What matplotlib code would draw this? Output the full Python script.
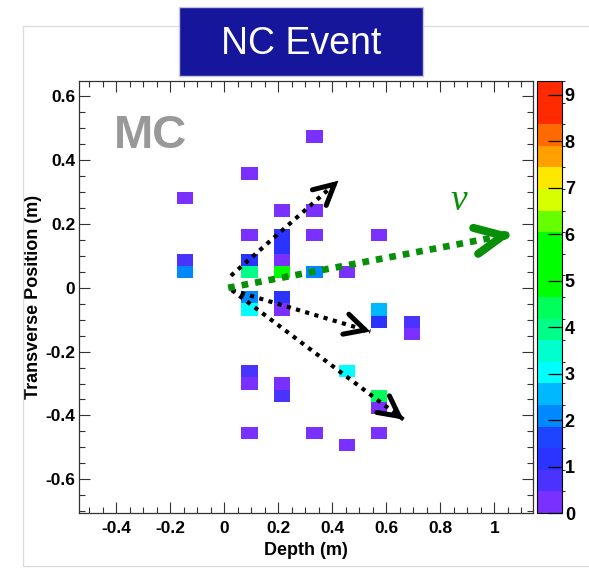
import numpy as np
import matplotlib
matplotlib.use('Agg')
import matplotlib.pyplot as plt
from matplotlib.colors import ListedColormap, BoundaryNorm
from matplotlib.patches import Rectangle
from matplotlib.ticker import AutoMinorLocator

plt.rcParams['font.family'] = ['Liberation Sans', 'DejaVu Sans']
plt.rcParams['axes.unicode_minus'] = False

# hit cells: depth (m), transverse position (m), energy
depth = [-0.146, -0.146, -0.146,
         0.094, 0.094, 0.094, 0.094, 0.094, 0.094, 0.094, 0.094, 0.094,
         0.214, 0.214, 0.214, 0.214, 0.214, 0.214, 0.214, 0.214, 0.214,
         0.334, 0.334, 0.334, 0.334, 0.334,
         0.454, 0.454, 0.454,
         0.574, 0.574, 0.574, 0.574, 0.574, 0.574,
         0.694, 0.694]
trans = [0.283, 0.088, 0.049,
         0.360, 0.166, 0.088, 0.049, -0.029, -0.068, -0.262, -0.300, -0.455,
         0.243, 0.166, 0.127, 0.088, 0.049, -0.029, -0.068, -0.300, -0.339,
         0.475, 0.243, 0.166, 0.049, -0.455,
         0.049, -0.262, -0.494,
         0.166, -0.068, -0.107, -0.339, -0.378, -0.455,
         -0.107, -0.146]
energy = [0.3, 0.7, 2.1,
          0.3, 0.3, 1.1, 3.9, 2.1, 3.0, 0.7, 0.3, 0.3,
          0.3, 1.1, 1.1, 0.3, 5.3, 1.1, 0.3, 0.3, 0.7,
          0.3, 0.3, 0.3, 2.1, 0.3,
          0.3, 3.0, 0.3,
          0.3, 2.5, 1.1, 4.4, 0.3, 0.3,
          0.7, 0.3]

# particle directions (start, end) in m
tracks = [((0.025, 0.038), (0.423, 0.336)),
          ((0.028, -0.007), (0.541, -0.137)),
          ((0.028, -0.007), (0.664, -0.413))]
nu_start = (0.015, 0.0)
nu_end = (1.066, 0.169)

x_edges = -0.536 + 0.06 * np.arange(29)
y_edges = -0.706 + 0.0387 * np.arange(36)
zmax = 9.3

palette = ['#7a30ff', '#4a33ff', '#2a33ff', '#1f44ff', '#0088ff', '#00b8ff',
           '#00ffff', '#00ffcc', '#00ff88', '#00ff5a', '#00ff00', '#00ff00',
           '#00ff00', '#66ff00', '#d8ff00', '#ffe800', '#ffa000', '#ff6a00',
           '#ff2a00', '#ff2a00']
cmap = ListedColormap(palette)
levels = np.linspace(0, zmax, 21)
norm = BoundaryNorm(levels, cmap.N)

H, _, _ = np.histogram2d(depth, trans, bins=[x_edges, y_edges], weights=energy)
H = np.ma.masked_equal(H, 0)

fig = plt.figure(figsize=(5.89, 5.71), dpi=100)
W, Hh = 589, 571

def fr(x0, y0, x1, y1):
    return [x0 / W, 1 - y1 / Hh, (x1 - x0) / W, (y1 - y0) / Hh]

# canvas border
fig.patches.append(Rectangle((23 / W, 1 - 566 / Hh), 1.0, (566 - 26) / Hh,
                             transform=fig.transFigure, fill=False,
                             edgecolor='#dcdcdc', lw=1))

ax = fig.add_axes(fr(79.3, 81, 533.3, 513))
mesh = ax.pcolormesh(x_edges, y_edges, H.T, cmap=cmap, norm=norm,
                     edgecolors='none')
ax.set_xlim(x_edges[0], x_edges[-1])
ax.set_ylim(y_edges[0], y_edges[-1])

xt = [-0.4, -0.2, 0, 0.2, 0.4, 0.6, 0.8, 1.0]
yt = [-0.6, -0.4, -0.2, 0, 0.2, 0.4, 0.6]
ax.set_xticks(xt)
ax.set_xticklabels([f'{v:g}' for v in xt], fontweight='bold', fontsize=12.5)
ax.set_yticks(yt)
ax.set_yticklabels([f'{v:g}' for v in yt], fontweight='bold', fontsize=12.5)
ax.xaxis.set_minor_locator(AutoMinorLocator(4))
ax.yaxis.set_minor_locator(AutoMinorLocator(4))
ax.tick_params(which='both', direction='in', top=True, right=True,
               color='#333333', width=0.8)
ax.tick_params(which='major', length=8)
ax.tick_params(which='minor', length=4.5)
ax.tick_params(axis='x', which='major', pad=6)
ax.tick_params(axis='y', which='major', pad=3)
for s in ax.spines.values():
    s.set_linewidth(0.9)
    s.set_color('#333333')

ax.set_xlabel('Depth (m)', fontweight='bold', fontsize=13, labelpad=4)
ax.set_ylabel('Transverse Position (m)', fontweight='bold', fontsize=13,
              labelpad=2)

ax.text(-0.274, 0.475, 'MC', color='#999999', fontweight='bold', fontsize=34,
        ha='center', va='center')

# track arrows
for (x0, y0), (x1, y1) in tracks:
    ax.plot([x0, x1], [y0, y1], color='black', lw=3.0,
            linestyle=(0, (1.0, 1.3)), solid_capstyle='butt',
            dash_capstyle='butt')
    dx, dy = x1 - x0, y1 - y0
    ax.annotate('', xy=(x1, y1), xytext=(x1 - 0.05 * dx, y1 - 0.05 * dy),
                arrowprops=dict(arrowstyle='->,head_length=1.45,head_width=0.75',
                                color='black', lw=3.6, shrinkA=0, shrinkB=0,
                                joinstyle='miter'))

green = '#079007'
ax.plot([nu_start[0], nu_end[0] - 0.01], [nu_start[1], nu_end[1] - 0.0016],
        color=green, lw=4.8, linestyle=(0, (1.0, 1.05)), dash_capstyle='butt',
        clip_on=False)
gdx, gdy = nu_end[0] - nu_start[0], nu_end[1] - nu_start[1]
ax.annotate('', xy=nu_end, xytext=(nu_end[0] - 0.03 * gdx, nu_end[1] - 0.03 * gdy),
            arrowprops=dict(arrowstyle='->,head_length=2.0,head_width=0.95',
                            color=green, lw=5.8, shrinkA=0, shrinkB=0),
            annotation_clip=False)
ax.text(0.867, 0.274, '\u03bd', color=green, fontsize=27, ha='center',
        va='center', style='italic', family=['Liberation Serif', 'DejaVu Serif'])

# colour scale
cax = fig.add_axes(fr(537, 81, 562, 513))
cb = fig.colorbar(mesh, cax=cax, boundaries=levels, ticks=range(10))
cb.ax.set_yticklabels([str(i) for i in range(10)], fontweight='bold',
                      fontsize=13)
cb.ax.tick_params(direction='in', length=10, width=0.9, pad=2)
cb.outline.set_linewidth(0.8)

# title box
fig.patches.append(Rectangle((179.3 / W, 1 - 76 / Hh), (423.3 - 179.3) / W,
                             (76 - 7.3) / Hh, transform=fig.transFigure,
                             facecolor='#16169c', edgecolor='#c8c8d8', lw=1))
fig.text(301 / W, 1 - 44 / Hh, 'NC Event', color='white', fontsize=27,
         ha='center', va='center')

fig.savefig('out.png', dpi=100)
